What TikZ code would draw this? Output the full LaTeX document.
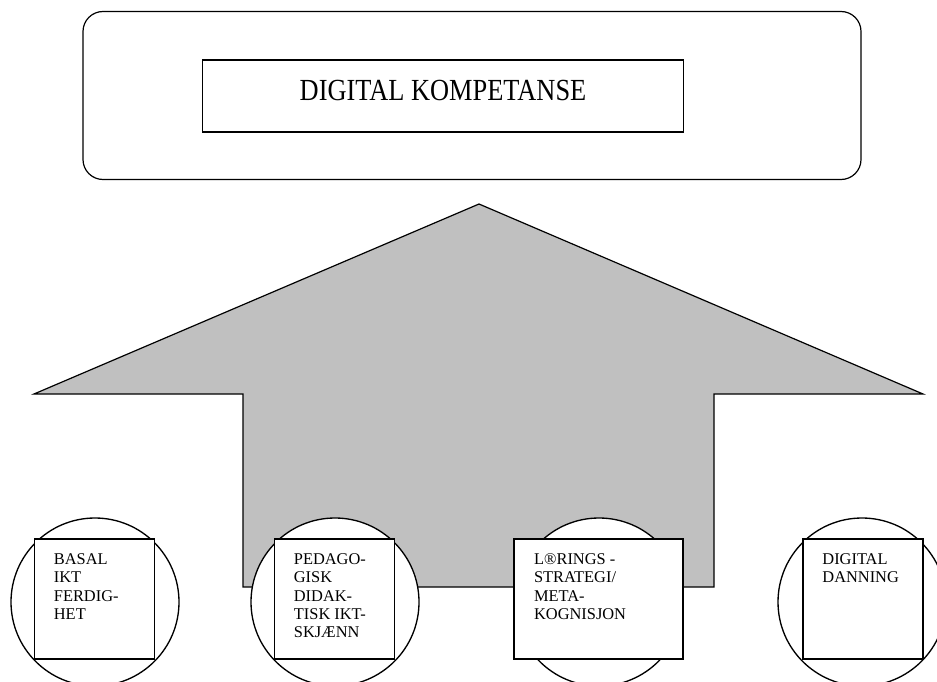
\documentclass[tikz,border=0pt]{standalone}
\usepackage{fontspec}
\setmainfont{Liberation Serif}
\newfontfamily\titlefont[FakeStretch=0.86]{Liberation Serif}
\usepackage{tikz}
\usetikzlibrary{positioning, calc}
\definecolor{arrowgray}{RGB}{192,192,192}
\tikzset{
  frame/.style={draw, line width=0.9pt, rounded corners=15pt, minimum width=583.5pt, minimum height=126pt},
  titlebox/.style={draw, line width=0.9pt, minimum width=360.75pt, minimum height=54pt, text depth=8.5pt, font=\titlefont\fontsize{23}{28}\selectfont},
  ring/.style={circle, draw, fill=white, line width=1pt, minimum size=126pt, inner sep=0pt},
  sqbox/.style={draw, fill=white, line width=1.3pt, minimum width=90pt, minimum height=90pt, inner sep=0pt},
  lbl/.style={anchor=north west, align=left, inner sep=0pt, font=\fontsize{12.3}{13.8}\selectfont},
}
\begin{document}
\begin{tikzpicture}[x=0.75pt, y=-0.75pt]
  \clip (0,0) rectangle (937,681);
  % top
  \node[frame] (top) at (472,95.5) {};
  \node[titlebox] (title) at (443,96) {DIGITAL KOMPETANSE};
  % big arrow
  \draw[line width=0.9pt, fill=arrowgray] (479,204) -- (923,394) -- (714,394) -- (714,587)
        -- (243,587) -- (243,394) -- (34,394) -- cycle;
  % circles
  \node[ring] (c1) at (95,602) {};
  \node[ring] (c2) at (335,602) {};
  \node[ring] (c3) at (599,602) {};
  \node[ring] (c4) at (862,602) {};
  % squares
  \node[sqbox] (s1) at (94.5,599) {};
  \node[sqbox] (s2) at (334.5,599) {};
  \node[sqbox, minimum width=126.75pt] (s3) at (598.5,599) {};
  \node[sqbox] (s4) at (863,599) {};
  \node[lbl] (t1) at ([xshift=15pt, yshift=-11.25pt]s1.north west) {BASAL\\IKT\\FERDIG-\\HET};
  \node[lbl] (t2) at ([xshift=15pt, yshift=-11.25pt]s2.north west) {PEDAGO-\\GISK\\DIDAK-\\TISK IKT-\\SKJÆNN};
  \node[lbl] (t3) at ([xshift=15.5pt, yshift=-11.25pt]s3.north west) {L®RINGS -\\STRATEGI/\\META-\\KOGNISJON};
  \node[lbl] (t4) at ([xshift=15pt, yshift=-11.25pt]s4.north west) {DIGITAL\\DANNING};
\end{tikzpicture}
\end{document}
